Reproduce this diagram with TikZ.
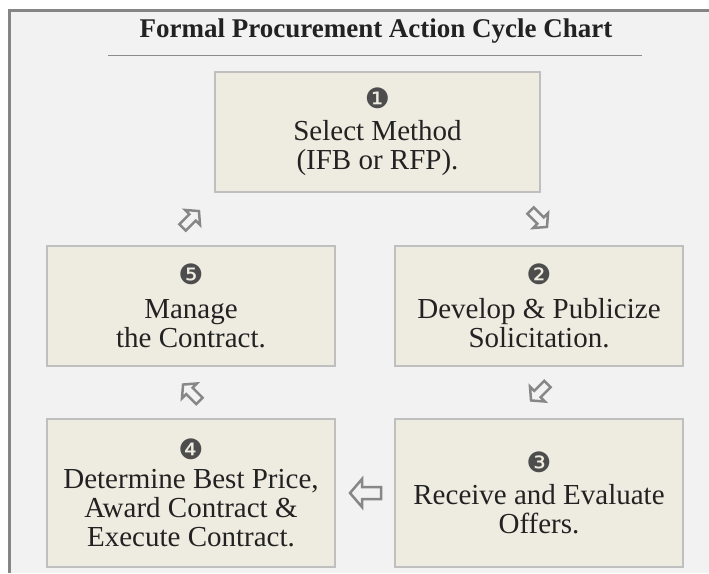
\documentclass[tikz,border=0pt]{standalone}
\usepackage{fontspec}
\setmainfont{Liberation Serif}
\newfontfamily\numfont{DejaVu Sans}
\usetikzlibrary{calc,positioning}

\definecolor{pagegray}{HTML}{F2F2F2}
\definecolor{framegray}{HTML}{858585}
\definecolor{rulegray}{HTML}{8C8C8C}
\definecolor{boxfill}{HTML}{EEEBE0}
\definecolor{boxline}{HTML}{BFBFBF}
\definecolor{numgray}{HTML}{4D4D4D}
\definecolor{arrowgray}{HTML}{878787}
\definecolor{textdark}{HTML}{222222}

\tikzset{
	stepbox/.style={draw=boxline, fill=boxfill, line width=2pt, minimum width=288pt,
		minimum height=120pt, align=center, inner sep=0pt, text=textdark,
		font=\fontsize{29}{29}\selectfont},
	hollowarrow/.pic={
		\draw[arrowgray, line width=2.5pt, line join=miter, fill=pagegray]
			(-15,0) -- (-3,-14) -- (-3,-6) -- (16,-6) -- (16,6) -- (-3,6) -- (-3,14) -- cycle;
	}
}
\newcommand{\stepnum}[1]{{\numfont\fontsize{28}{29}\selectfont\color{numgray}#1}}

\begin{document}
\begin{tikzpicture}[x=1pt, y=-1pt]
	\useasboundingbox (0,0) rectangle (709,573);
	% frame
	\fill[pagegray] (9,9) rectangle (709,573);
	\draw[framegray, line width=3pt] (9.5,573) -- (9.5,10.5) -- (709,10.5);
	\node (title) at (376,31) {\fontsize{27}{30}\selectfont\bfseries\color{textdark}Formal Procurement Action Cycle Chart};
	\draw[rulegray, line width=1pt] (108,55) -- (642,55);
	% steps
	\node[stepbox, minimum width=325pt] (s1) at (377.5,132) {\stepnum{❶}\\[3pt]Select Method\\(IFB or RFP).};
	\node[stepbox] (s2) at (539,306) {\stepnum{❷}\\[5pt]Develop \& Publicize\\Solicitation.};
	\node[stepbox, minimum height=148pt] (s3) at (539,493) {\stepnum{❸}\\[3pt]Receive and Evaluate\\Offers.};
	\node[stepbox, minimum height=148pt] (s4) at (191,493) {\stepnum{❹}\\[0pt]Determine Best Price,\\Award Contract \&\\Execute Contract.};
	\node[stepbox] (s5) at (191,306) {\stepnum{❺}\\[5pt]Manage\\the Contract.};
	% arrows
	\pic[rotate=135, scale=0.75] at ($(s1.south -| s2.north)!0.5!(s2.north)$) {hollowarrow};
	\pic[rotate=45, scale=0.75] at ($(s2.south)!0.5!(s3.north)$) {hollowarrow};
	\pic at ($(s3.west)!0.5!(s4.east)$) {hollowarrow};
	\pic[rotate=-45, scale=0.75] at ($(s4.north)!0.5!(s5.south)$) {hollowarrow};
	\pic[rotate=-135, scale=0.75] at ($(s5.north)!0.5!(s1.south -| s5.north)$) {hollowarrow};
\end{tikzpicture}
\end{document}
